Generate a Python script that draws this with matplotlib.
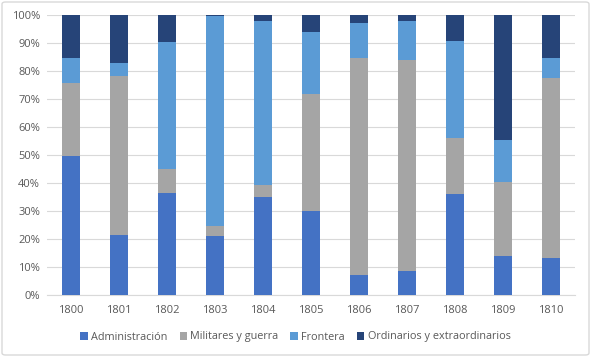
import matplotlib
matplotlib.use("Agg")
import matplotlib.pyplot as plt
from matplotlib.patches import FancyBboxPatch
import numpy as np

years = ["1800", "1801", "1802", "1803", "1804", "1805", "1806", "1807", "1808", "1809", "1810"]
administracion = [49.6, 21.3, 36.3, 21.2, 35.1, 30.0, 7.0, 8.6, 36.1, 13.9, 13.2]
militares = [26.2, 56.8, 8.8, 3.3, 4.3, 41.8, 77.6, 75.3, 19.9, 26.6, 64.3]
frontera = [9.0, 4.9, 45.1, 75.0, 58.3, 22.1, 12.5, 14.0, 34.7, 14.7, 7.3]
ordinarios = [15.2, 17.0, 9.8, 0.5, 2.3, 6.1, 2.9, 2.1, 9.3, 44.8, 15.2]

series = [
    ("Administración", administracion, "#4472C4"),
    ("Militares y guerra", militares, "#A5A5A5"),
    ("Frontera", frontera, "#5B9BD5"),
    ("Ordinarios y extraordinarios", ordinarios, "#264478"),
]

plt.rcParams['font.family'] = ['Open Sans', 'DejaVu Sans']

W, H = 591, 357
fig = plt.figure(figsize=(W / 100, H / 100), dpi=100)
ax = fig.add_axes([47 / W, 1 - 295 / H, (575 - 47) / W, (295 - 15) / H])

x = np.arange(len(years))
bottom = np.zeros(len(years))
handles = []
for name, vals, col in series:
    v = np.array(vals, dtype=float)
    b = ax.bar(x, v, 0.39, bottom=bottom, color=col, label=name, zorder=3)
    bottom += v
    handles.append(b)

ax.set_xlim(-0.5, len(years) - 0.5)
ax.set_ylim(0, 100)
ax.set_yticks(np.arange(0, 101, 10))
ax.set_yticklabels([f"{t}%" for t in range(0, 101, 10)])
ax.set_xticks(x)
ax.set_xticklabels(years)
ax.grid(axis='y', color='#D9D9D9', linewidth=0.8, zorder=0)
for s in ['top', 'right', 'left']:
    ax.spines[s].set_visible(False)
ax.spines['bottom'].set_color('#D9D9D9')
ax.tick_params(axis='both', length=0, labelsize=8, colors='#595959')
ax.tick_params(axis='x', pad=7)
ax.tick_params(axis='y', pad=5)

leg = fig.legend(handles=handles, labels=[s[0] for s in series], loc='center',
                 bbox_to_anchor=(0.5, 1 - 337 / H), ncol=4, frameon=False,
                 fontsize=7.8, handlelength=0.7, handleheight=0.7, handletextpad=0.3,
                 columnspacing=1.1, borderaxespad=0)
for t in leg.get_texts():
    t.set_color('#595959')

border = FancyBboxPatch((2 / W, 2 / H), 1 - 4 / W, 1 - 4 / H, boxstyle="round,pad=0,rounding_size=0.006",
                        transform=fig.transFigure, fill=False, edgecolor='#D9D9D9', linewidth=1)
fig.patches.append(border)

fig.savefig("out.png", dpi=100)
